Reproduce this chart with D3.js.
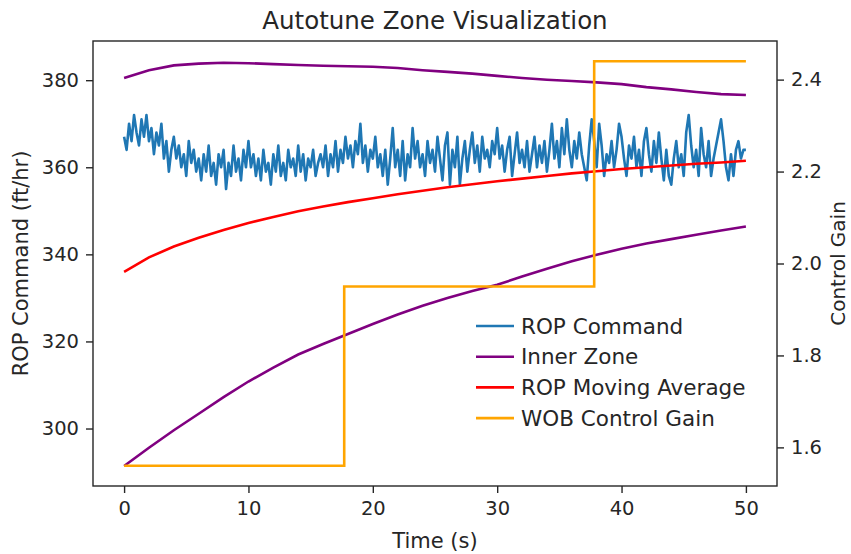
<!DOCTYPE html>
<html>
<head>
<meta charset="utf-8">
<script src="https://cdn.jsdelivr.net/npm/d3@7"></script>
<style>
  body { margin: 0; background: #fff; }
  text { font-family: "DejaVu Sans", sans-serif; fill: #262626; }
</style>
</head>
<body>
<div id="plot"></div>
<script>
  // ROP command, one sample every 0.2 s from 0 to 50 s
  const ropCommand = [
    367, 364, 370, 366, 372, 368, 365, 371, 367, 372,
    366, 369, 363, 368, 365, 370, 362, 366, 359, 364,
    367, 362, 365, 360, 363, 358, 366, 361, 364, 359,
    362, 357, 363, 359, 365, 358, 361, 356, 363, 360,
    364, 355, 361, 358, 365, 359, 362, 357, 364, 360,
    366, 360, 363, 358, 362, 357, 364, 359, 361, 356,
    363, 359, 365, 358, 361, 357, 364, 360, 362, 358,
    365, 359, 363, 357, 362, 360, 364, 358, 361, 363,
    360, 365, 358, 363, 360, 366, 359, 364, 361, 367,
    362, 365, 360, 366, 363, 370, 361, 365, 359, 364,
    362, 367, 360, 363, 358, 364, 356, 362, 369, 360,
    364, 358, 366, 357, 363, 360, 369, 362, 366, 360,
    363, 358, 366, 361, 364, 359, 367, 362, 357, 365,
    368, 356, 364, 360, 367, 356, 362, 366, 359, 364,
    368, 361, 365, 359, 367, 362, 364, 360, 366, 363,
    369, 362, 365, 359, 364, 367, 358, 363, 368, 361,
    364, 360, 366, 359, 363, 367, 360, 365, 361, 366,
    359, 364, 370, 362, 366, 360, 369, 363, 371, 364,
    360, 366, 362, 368, 363, 360, 357, 365, 371, 366,
    360, 370, 365, 358, 363, 361, 366, 360, 364, 370,
    367, 362, 358, 365, 362, 367, 360, 364, 358, 366,
    369, 363, 359, 366, 361, 368, 362, 357, 364, 358,
    356, 362, 366, 360, 363, 358, 368, 372, 365, 360,
    364, 358, 369, 363, 360, 366, 358, 362, 365, 368,
    371, 366, 360, 357, 363, 358, 364, 366, 362, 364,
    364
  ];
  const ropStep = 0.2;

  // slower series, one value every 2 s
  const slowTimes = [0, 2, 4, 6, 8, 10, 12, 14, 16, 18, 20, 22, 24, 26, 28, 30,
    32, 34, 36, 38, 40, 42, 44, 46, 48, 50];
  const innerUpper = [380.5, 382.3, 383.4, 383.8, 384.0, 383.9, 383.7, 383.5, 383.3,
    383.2, 383.1, 382.8, 382.3, 381.9, 381.5, 381.0, 380.5, 380.1, 379.8, 379.5,
    379.1, 378.4, 377.9, 377.3, 376.8, 376.6];
  const innerLower = [291.4, 295.6, 299.6, 303.4, 307.2, 310.8, 314.0, 317.0, 319.4,
    321.7, 324.0, 326.2, 328.2, 330.0, 331.6, 333.0, 334.9, 336.7, 338.4, 339.9,
    341.3, 342.5, 343.5, 344.5, 345.5, 346.4];
  const movingAvg = [336.0, 339.3, 341.8, 343.8, 345.6, 347.2, 348.6, 349.9, 351.0,
    352.0, 352.9, 353.8, 354.6, 355.4, 356.1, 356.8, 357.4, 358.0, 358.6, 359.1,
    359.6, 360.0, 360.4, 360.8, 361.1, 361.5];

  // control gain steps
  const gainTimes = [0, 17.7, 37.8, 50];
  const gainValues = [1.56, 1.95, 2.44, 2.44];

  const xTicks = [0, 10, 20, 30, 40, 50];
  const leftTicks = [300, 320, 340, 360, 380];
  const rightTicks = [1.6, 1.8, 2.0, 2.2, 2.4];

  const w = 851;
  const h = 554;
  const margin = {top: 41, right: 74, bottom: 68, left: 93};

  const svg = d3.select("div#plot")
      .append("svg")
      .attr("width", w)
      .attr("height", h);

  const xScale = d3.scaleLinear()
      .domain([-2.5, 52.5])
      .range([margin.left, w - margin.right]);

  const yLeft = d3.scaleLinear()
      .domain([286.8, 389.0])
      .range([h - margin.bottom, margin.top]);

  const yRight = d3.scaleLinear()
      .domain([1.516, 2.484])
      .range([h - margin.bottom, margin.top]);

  const plotArea = svg.append("g");

  const lineOf = (ys, xs) => d3.line()
      .x((d, i) => xScale(xs[i]))
      .y(d => yLeft(d))(ys);

  const ropTimes = ropCommand.map((d, i) => i * ropStep);

  plotArea.append("path")
      .attr("d", lineOf(ropCommand, ropTimes))
      .attr("fill", "none")
      .attr("stroke", "#1f77b4")
      .attr("stroke-width", 2.6)
      .attr("stroke-linejoin", "round");

  [innerUpper, innerLower].forEach(s => {
    plotArea.append("path")
        .attr("d", lineOf(s, slowTimes))
        .attr("fill", "none")
        .attr("stroke", "purple")
        .attr("stroke-width", 2.6);
  });

  plotArea.append("path")
      .attr("d", lineOf(movingAvg, slowTimes))
      .attr("fill", "none")
      .attr("stroke", "red")
      .attr("stroke-width", 2.6);

  const gainLine = d3.line()
      .curve(d3.curveStepAfter)
      .x((d, i) => xScale(gainTimes[i]))
      .y(d => yRight(d));

  plotArea.append("path")
      .attr("d", gainLine(gainValues))
      .attr("fill", "none")
      .attr("stroke", "orange")
      .attr("stroke-width", 2.6);

  // axes
  const xAxis = d3.axisBottom(xScale)
      .tickValues(xTicks)
      .tickSize(7)
      .tickPadding(8)
      .tickFormat(d3.format("d"));

  const leftAxis = d3.axisLeft(yLeft)
      .tickValues(leftTicks)
      .tickSize(7)
      .tickPadding(7)
      .tickFormat(d3.format("d"));

  const rightAxis = d3.axisRight(yRight)
      .tickValues(rightTicks)
      .tickSize(7)
      .tickPadding(7)
      .tickFormat(d3.format(".1f"));

  svg.append("g")
      .attr("class", "xAxis")
      .attr("transform", `translate(0, ${h - margin.bottom})`)
      .call(xAxis);

  svg.append("g")
      .attr("class", "yAxis")
      .attr("transform", `translate(${margin.left}, 0)`)
      .call(leftAxis);

  svg.append("g")
      .attr("class", "yAxis2")
      .attr("transform", `translate(${w - margin.right}, 0)`)
      .call(rightAxis);

  svg.selectAll(".domain").remove();
  svg.selectAll(".tick line").attr("stroke", "#262626").attr("stroke-width", 1.4);
  svg.selectAll(".tick text")
      .style("font-size", "19.5px")
      .style("font-family", "DejaVu Sans, sans-serif")
      .attr("fill", "#262626");

  svg.append("rect")
      .attr("x", margin.left)
      .attr("y", margin.top)
      .attr("width", w - margin.left - margin.right)
      .attr("height", h - margin.top - margin.bottom)
      .attr("fill", "none")
      .attr("stroke", "#262626")
      .attr("stroke-width", 1.4);

  // titles
  svg.append("text")
      .attr("x", (margin.left + w - margin.right) / 2)
      .attr("y", 29)
      .attr("text-anchor", "middle")
      .style("font-size", "24.5px")
      .text("Autotune Zone Visualization");

  svg.append("text")
      .attr("x", (margin.left + w - margin.right) / 2)
      .attr("y", 548)
      .attr("text-anchor", "middle")
      .style("font-size", "21px")
      .text("Time (s)");

  svg.append("text")
      .attr("transform", "rotate(-90)")
      .attr("x", -(margin.top + h - margin.bottom) / 2)
      .attr("y", 28)
      .attr("text-anchor", "middle")
      .style("font-size", "21px")
      .text("ROP Command (ft/hr)");

  svg.append("text")
      .attr("transform", "rotate(-90)")
      .attr("x", -(margin.top + h - margin.bottom) / 2)
      .attr("y", 845)
      .attr("text-anchor", "middle")
      .style("font-size", "20px")
      .text("Control Gain");

  // legend
  const legendNames = ["ROP Command", "Inner Zone", "ROP Moving Average", "WOB Control Gain"];
  const legendColors = ["#1f77b4", "purple", "red", "orange"];

  const legend = svg.append("g")
      .attr("transform", "translate(476, 326)");

  legend.selectAll("line")
      .data(legendNames)
      .enter().append("line")
      .attr("x1", 0)
      .attr("x2", 38)
      .attr("y1", (d, i) => i * 30.7)
      .attr("y2", (d, i) => i * 30.7)
      .attr("stroke", (d, i) => legendColors[i])
      .attr("stroke-width", 2.6);

  legend.selectAll("text")
      .data(legendNames)
      .enter().append("text")
      .attr("x", 45)
      .attr("y", (d, i) => i * 30.7)
      .attr("dy", "0.35em")
      .style("font-size", "21.5px")
      .text(d => d);
</script>
</body>
</html>
